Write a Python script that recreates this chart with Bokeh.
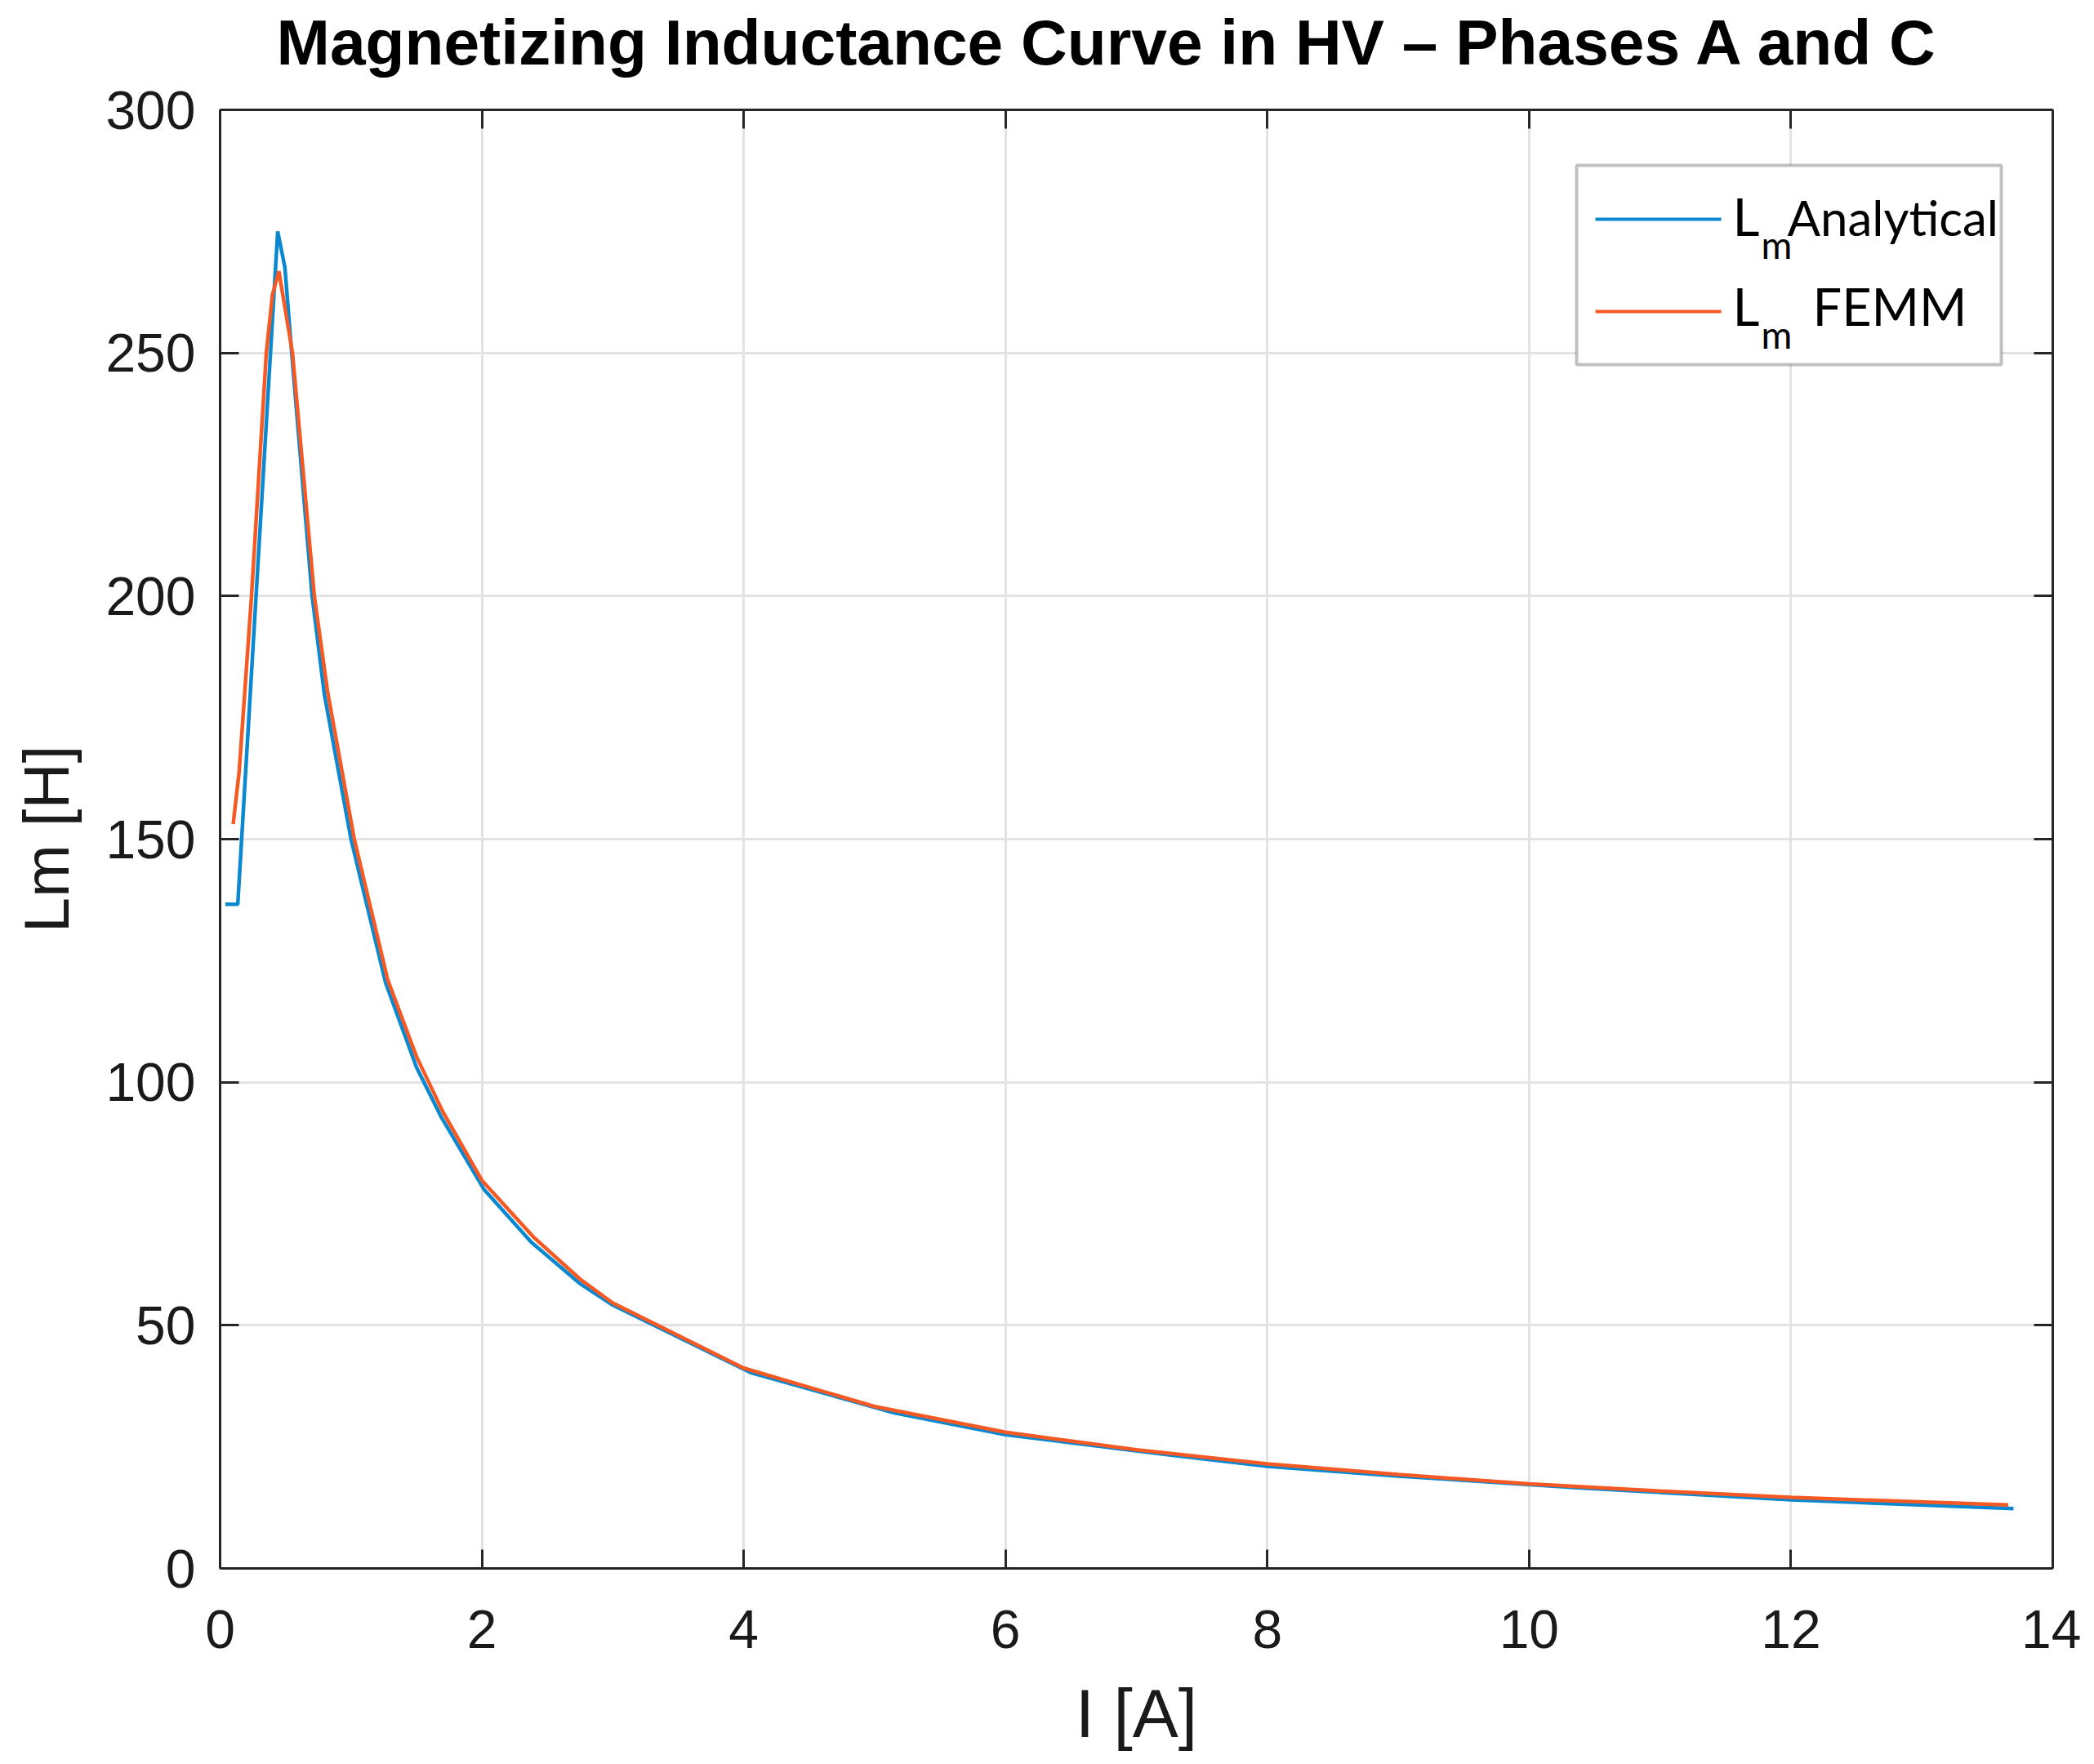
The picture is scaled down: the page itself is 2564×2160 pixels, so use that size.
from bokeh.plotting import figure
from bokeh.models import (LinearAxis, FixedTicker, Label, BoxAnnotation, Arrow,
                          Range1d, CustomJSTickFormatter, Title)
from bokeh.embed import file_html
from bokeh.resources import INLINE

# ---------------- data ----------------
analytical_I = [0.04, 0.135, 0.44, 0.495, 0.547, 0.703, 0.797, 1.00, 1.264, 1.50,
                1.694, 2.015, 2.377, 2.753, 2.99, 4.06, 5.15, 6.0, 7.29, 8.0,
                9.0, 10.37, 12.0, 13.70]
analytical_L = [136.6, 136.6, 275.0, 267.6, 250.0, 200.0, 179.7, 150.0, 120.5, 103.1,
                92.6, 78.0, 67.1, 58.5, 54.3, 40.2, 32.0, 27.5, 23.2, 21.0,
                19.0, 16.6, 14.1, 12.3]

femm_I = [0.10, 0.146, 0.24, 0.353, 0.40, 0.449, 0.553, 0.72, 0.82, 1.025,
          1.28, 1.50, 1.70, 2.0, 2.4, 2.75, 3.0, 4.0, 5.0, 6.0,
          7.0, 8.0, 9.0, 10.0, 11.0, 12.0, 13.66]
femm_L = [153.1, 164.0, 200.0, 250.0, 262.0, 266.8, 250.0, 200.0, 180.5, 150.0,
          121.1, 105.3, 94.0, 79.8, 68.0, 59.5, 54.6, 41.2, 33.3, 28.0,
          24.4, 21.5, 19.3, 17.4, 15.9, 14.6, 13.05]

x_ticks = [0, 2, 4, 6, 8, 10, 12, 14]
y_ticks = [0, 50, 100, 150, 200, 250, 300]

title_text = "Magnetizing Inductance Curve in HV \u2013 Phases A and C"
x_label = "I [A]"
y_label = "Lm [H]"
legend_names = ["Analytical", "FEMM"]

BLUE = "#0a88d0"
ORANGE = "#f65a24"
AXC = "#262626"

# ---------------- layout ----------------
FW, FH = 2244, 1786
BL, BR, BT, BB = 269, 35, 134, 230
X0, X1, Y0, Y1 = 0, 14, 0, 300

def px_I(px):   # picture pixel -> data x
    return X0 + (px - BL) * (X1 - X0) / FW

def px_L(py):   # picture pixel -> data y
    return Y1 - (py - BT) * (Y1 - Y0) / FH

def mid(base, size):  # vertical centre of a text line from its baseline
    return px_L(base - 0.36 * size)

p = figure(frame_width=FW, frame_height=FH,
           x_range=Range1d(X0, X1), y_range=Range1d(Y0, Y1),
           output_backend="svg", toolbar_location=None,
           min_border_left=BL, min_border_right=BR,
           min_border_top=BT, min_border_bottom=BB,
           background_fill_color="white", border_fill_color="white")
p.outline_line_color = None
p.title.text = ""
p.title.standoff = 0

def style_axis(ax, ticks):
    ax.ticker = FixedTicker(ticks=ticks)
    ax.axis_line_color = AXC
    ax.axis_line_width = 3
    ax.major_tick_line_color = AXC
    ax.major_tick_line_width = 3
    ax.major_tick_in = 23
    ax.major_tick_out = 0
    ax.minor_tick_in = 0
    ax.minor_tick_out = 0
    ax.major_label_text_font = "Liberation Sans"
    ax.major_label_text_font_size = "66px"
    ax.major_label_text_color = "#1a1a1a"
    ax.axis_label_text_font = "Liberation Sans"
    ax.axis_label_text_font_style = "normal"
    ax.axis_label_text_color = "#1a1a1a"

xa = p.xaxis[0]
ya = p.yaxis[0]
style_axis(xa, x_ticks)
style_axis(ya, y_ticks)
xa.axis_label = x_label
ya.axis_label = y_label
xa.axis_label_text_font_size = "84px"
ya.axis_label_text_font_size = "78px"
xa.major_label_standoff = 51
ya.major_label_standoff = 30
xa.axis_label_standoff = 30
ya.axis_label_standoff = 25

top = LinearAxis(formatter=CustomJSTickFormatter(code="return ''"), major_label_standoff=0)
right = LinearAxis(formatter=CustomJSTickFormatter(code="return ''"), major_label_standoff=0)
style_axis(top, x_ticks)
style_axis(right, y_ticks)
top.major_label_text_font_size = "1px"
right.major_label_text_font_size = "1px"
p.add_layout(top, "above")
p.add_layout(right, "right")

# spacer between frame and title, then the title itself (further out)
p.add_layout(Title(text=" ", text_font_size="10px", standoff=26), "above")
p.add_layout(Title(text=title_text, align="left", offset=69, standoff=0,
                   text_font="Liberation Sans", text_font_size="78.5px",
                   text_font_style="bold", text_color="black"), "above")

p.xgrid.ticker = FixedTicker(ticks=x_ticks)
p.ygrid.ticker = FixedTicker(ticks=y_ticks)
p.xgrid.grid_line_color = "#e3e3e3"
p.ygrid.grid_line_color = "#e3e3e3"
p.xgrid.grid_line_width = 3
p.ygrid.grid_line_width = 3

p.line(analytical_I, analytical_L, line_color=BLUE, line_width=4.5)
p.line(femm_I, femm_L, line_color=ORANGE, line_width=4.5)

# ---------------- legend (manual, to allow the subscript) ----------------
p.add_layout(BoxAnnotation(left=px_I(1930), right=px_I(2450),
                           top=px_L(202), bottom=px_L(446),
                           fill_color="white", fill_alpha=1.0,
                           line_color="#333333", line_width=4))
rows = [(268, 287, 316, BLUE), (381, 397, 426, ORANGE)]
for (ly, base, sub_base, col), name in zip(rows, legend_names):
    p.add_layout(Arrow(end=None, x_start=px_I(1953), y_start=px_L(ly),
                       x_end=px_I(2107), y_end=px_L(ly),
                       line_color=col, line_width=4))
    p.add_layout(Label(x=px_I(2121), y=mid(base, 64), text="L",
                       text_font="Lato", text_font_size="64px",
                       text_baseline="middle", text_color="black"))
    p.add_layout(Label(x=px_I(2156), y=mid(sub_base, 46), text="m",
                       text_font="Lato", text_font_size="46px",
                       text_baseline="middle", text_color="black"))
    nx = 2188 if name == "Analytical" else 2219
    ns = 60 if name == "Analytical" else 63
    p.add_layout(Label(x=px_I(nx), y=mid(base, ns), text=name,
                       text_font="Lato", text_font_size=f"{ns}px",
                       text_baseline="middle", text_color="black"))

open("out.html", "w").write(file_html(p, INLINE))
